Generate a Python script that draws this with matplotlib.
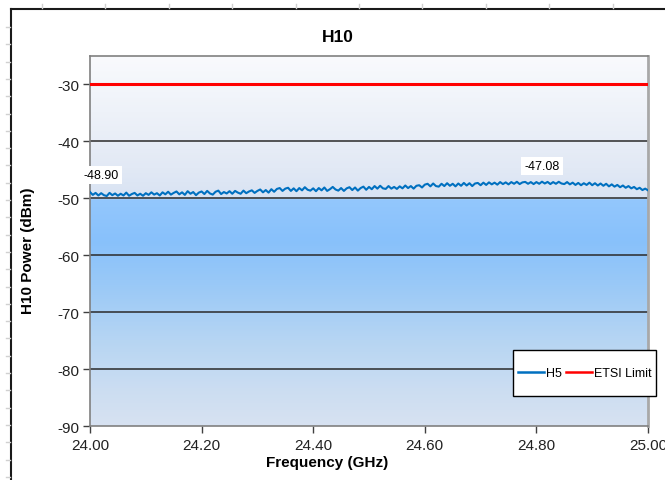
import numpy as np
import matplotlib
matplotlib.use("Agg")
import matplotlib.pyplot as plt
from matplotlib.colors import LinearSegmentedColormap
from matplotlib.lines import Line2D
from matplotlib.patches import Rectangle

plt.rcParams['font.family'] = ['Liberation Sans', 'DejaVu Sans']

# ---- data ----
freq_start = 24.00
freq_step = 0.005
h5_power = [
    -48.90, -49.40, -49.05, -49.50, -49.10, -49.45, -49.60, -49.05, -49.45, -49.15,
    -49.55, -49.20, -49.50, -49.00, -49.55, -49.25, -49.05, -49.50, -49.20, -49.55,
    -49.10, -49.40, -48.95, -49.35, -49.10, -49.50, -48.95, -49.30, -48.85, -49.35,
    -49.05, -48.80, -49.30, -48.95, -49.40, -48.75, -49.20, -48.90, -49.45, -49.00,
    -48.80, -49.25, -48.70, -49.15, -49.35, -48.85, -48.65, -49.25, -48.90, -49.15,
    -48.75, -49.20, -48.70, -49.00, -49.20, -48.65, -49.10, -48.80, -48.60, -49.05,
    -48.70, -48.45, -48.95, -48.55, -49.00, -48.40, -48.85, -48.35, -48.20, -48.70,
    -48.30, -48.15, -48.70, -48.25, -48.75, -48.20, -48.60, -48.05, -48.50, -48.65,
    -48.25, -48.75, -48.20, -48.60, -48.10, -48.70, -48.40, -48.00, -48.45, -48.65,
    -48.20, -48.70, -48.25, -48.05, -48.55, -48.10, -48.65, -48.20, -47.95, -48.50,
    -48.00, -48.40, -47.85, -48.30, -47.80, -48.25, -48.35, -47.85, -48.30, -48.00,
    -48.35, -47.90, -48.25, -47.75, -48.20, -47.85, -48.30, -47.80, -47.70, -48.10,
    -47.60, -47.45, -47.90, -47.40, -47.85, -47.95, -47.45, -47.85, -47.35, -47.80,
    -47.45, -47.90, -47.40, -47.80, -47.30, -47.75, -47.35, -47.85, -47.40, -47.30,
    -47.70, -47.25, -47.65, -47.20, -47.55, -47.25, -47.60, -47.15, -47.50, -47.20,
    -47.55, -47.15, -47.45, -47.10, -47.50, -47.20, -47.12, -47.45, -47.15, -47.50,
    -47.15, -47.45, -47.08, -47.40, -47.12, -47.50, -47.15, -47.45, -47.10, -47.40,
    -47.50, -47.15, -47.55, -47.25, -47.65, -47.30, -47.70, -47.35, -47.65, -47.25,
    -47.70, -47.35, -47.75, -47.40, -47.80, -47.45, -47.90, -47.55, -47.95, -47.65,
    -48.05, -47.75, -48.15, -47.85, -48.25, -48.00, -48.40, -48.15, -48.55, -48.30,
    -48.60,
]
freq = freq_start + freq_step * np.arange(len(h5_power))
etsi_limit = -30
y_ticks = [-90, -80, -70, -60, -50, -40, -30]
x_ticks = [24.00, 24.20, 24.40, 24.60, 24.80, 25.00]
x_tick_labels = ["24.00", "24.20", "24.40", "24.60", "24.80", "25.00"]
title = "H10"
xlabel = "Frequency (GHz)"
ylabel = "H10 Power (dBm)"
series_names = ["H5", "ETSI Limit"]

# ---- figure ----
W, H = 665, 481
fig = plt.figure(figsize=(W / 100, H / 100), dpi=100)
fig.patch.set_facecolor('white')

L, R, T, B = 90, 648, 57, 427
ax = fig.add_axes([L / W, 1 - B / H, (R - L) / W, (B - T) / H])

xmin, xmax, ymin, ymax = 24.0, 25.0, -90, -25
ax.set_xlim(xmin, xmax)
ax.set_ylim(ymin, ymax)

# gradient background
stops = [
    (0.00, '#f9fafd'),
    (0.15, '#eef2f9'),
    (0.30, '#e2e9f5'),
    (0.383, '#d8e3f3'),
    (0.388, '#93c7fd'),
    (0.50, '#88c1fb'),
    (0.62, '#9ac9f7'),
    (0.77, '#b6d5f3'),
    (0.90, '#cbddf2'),
    (1.00, '#d7e2f1'),
]
cmap = LinearSegmentedColormap.from_list('bg', stops)
grad = np.linspace(0, 1, 600).reshape(-1, 1)
ax.imshow(grad, cmap=cmap, aspect='auto', extent=[xmin, xmax, ymin, ymax],
          origin='upper', zorder=0, interpolation='bilinear')

# grid lines
for yv in y_ticks[1:-1]:
    ax.axhline(yv, color='#2a2a2a', lw=1.1, zorder=1)

# series
ax.plot(freq, h5_power, color='#0070c0', lw=1.5, zorder=3, label=series_names[0])
ax.axhline(etsi_limit, color='#ff0000', lw=2.2, zorder=3, label=series_names[1])

# data labels
i_first = 0
i_max = int(np.argmax(h5_power))
bbox = dict(boxstyle='square,pad=0.25', fc='white', ec='none')
ax.annotate(f"{h5_power[i_first]:.2f}", (freq[i_first], h5_power[i_first]),
            xytext=(11, 17), textcoords='offset pixels', ha='center', va='center',
            fontsize=9, bbox=bbox, zorder=5, annotation_clip=False)
ax.annotate(f"{h5_power[i_max]:.2f}", (freq[i_max], h5_power[i_max]),
            xytext=(0, 16), textcoords='offset pixels', ha='center', va='center',
            fontsize=9, bbox=bbox, zorder=5, annotation_clip=False)

# spines / ticks
for s in ['left', 'bottom', 'top']:
    ax.spines[s].set_color('#808080')
    ax.spines[s].set_linewidth(1.2)
ax.spines['right'].set_color('#a8a8a8')
ax.spines['right'].set_linewidth(2.0)
ax.set_yticks(y_ticks)
ax.set_yticklabels([str(v) for v in y_ticks])
ax.set_xticks(x_ticks)
ax.set_xticklabels(x_tick_labels)
ax.tick_params(axis='both', direction='out', length=5, width=1, color='#404040',
               labelsize=11, labelcolor='#222222', pad=3)
ax.tick_params(axis='x', pad=4)

# titles
fig.text(338 / W, 1 - 38 / H, title, ha='center', va='center', fontsize=12.5,
         fontweight='bold')
fig.text(327 / W, 1 - 463 / H, xlabel, ha='center', va='center', fontsize=11,
         fontweight='bold')
fig.text(28 / W, 1 - 251 / H, ylabel, ha='center', va='center', fontsize=11,
         fontweight='bold', rotation=90)

# legend box
lx0, lx1, ly0, ly1 = 513, 656, 351, 397
fig.patches.append(Rectangle((lx0 / W, 1 - ly1 / H), (lx1 - lx0) / W, (ly1 - ly0) / H,
                             transform=fig.transFigure, fc='white', ec='black',
                             lw=1.0, zorder=10))
handles = [Line2D([], [], color='#0070c0', lw=1.8),
           Line2D([], [], color='#ff0000', lw=1.8)]
leg = fig.legend(handles, series_names, loc='center', ncol=2,
                 bbox_to_anchor=((lx0 + lx1) / 2 / W, 1 - (ly0 + ly1) / 2 / H),
                 frameon=False, fontsize=9, handlelength=2.1, handletextpad=0.15,
                 columnspacing=0.3, borderpad=0.0)
leg.set_zorder(11)

# outer chart border and faint sheet marks
fig.add_artist(Line2D([11 / W, 11 / W], [0, 1 - 10 / H], transform=fig.transFigure,
                      color='#1a1a1a', lw=1.5))
fig.add_artist(Line2D([11 / W, 1], [1 - 10 / H, 1 - 10 / H], transform=fig.transFigure,
                      color='#1a1a1a', lw=1.5))
for k in range(10):
    xm = 42 + 63.4 * k
    fig.add_artist(Line2D([xm / W, xm / W], [1 - 5 / H, 1 - 9 / H],
                          transform=fig.transFigure, color='#d0d0d0', lw=1))
for k in range(27):
    ym = 28 + 17.3 * k
    fig.add_artist(Line2D([6 / W, 10 / W], [1 - ym / H, 1 - ym / H],
                          transform=fig.transFigure, color='#d0d0d0', lw=1))

fig.savefig('out.png', dpi=100, facecolor='white')
